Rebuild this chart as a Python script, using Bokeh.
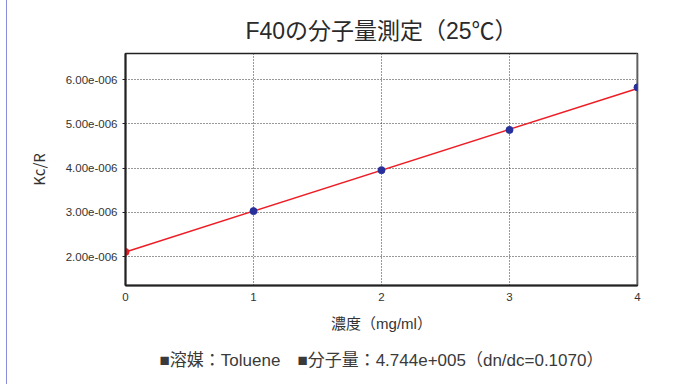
from bokeh.plotting import figure
from bokeh.models import Title, FixedTicker, Span, Range1d, Div
from bokeh.layouts import row
from bokeh.embed import file_html
from bokeh.resources import INLINE

# Zimm-type plot data: concentration (mg/ml) vs Kc/R
conc = [1, 2, 3, 4]
kc_r = [3.03e-6, 3.955e-6, 4.864e-6, 5.825e-6]

# Molecular weight from the fit; the intercept is 1/Mw
mol_weight = 4.744e5
intercept_x = [0]
intercept_y = [1 / mol_weight]

# Regression line end points
fit_x = [0, 4]
fit_y = [1 / mol_weight, 5.80e-6]

x_ticks = [0, 1, 2, 3, 4]
y_ticks = [2e-6, 3e-6, 4e-6, 5e-6, 6e-6]
y_tick_labels = ["2.00e-006", "3.00e-006", "4.00e-006", "5.00e-006", "6.00e-006"]

JP = "Noto Sans CJK JP"
MIXED = "Liberation Sans, Noto Sans CJK JP"   # Latin first, CJK falls back
NUM = "Liberation Sans"
TXT = "#333333"

p = figure(
    width=676, height=384,
    output_backend="svg", toolbar_location=None,
    x_range=Range1d(0, 4), y_range=Range1d(1.35e-6, 6.59e-6),
    min_border_left=118, min_border_right=46,
    min_border_top=53, min_border_bottom=99,
)

p.title.text = "F40の分子量測定（25℃）"
p.title.align = "center"
p.title.text_font = MIXED
p.title.text_font_size = "23px"
p.title.text_font_style = "normal"
p.title.text_color = "#2a2a2a"
p.title.standoff = 19

p.outline_line_color = "#222222"
p.outline_line_width = 1.5

# grid
p.xgrid.ticker = FixedTicker(ticks=x_ticks)
p.ygrid.ticker = FixedTicker(ticks=y_ticks)
for g in (p.xgrid, p.ygrid):
    g.grid_line_color = "#333333"
    g.grid_line_dash = "1 2"
    g.grid_line_width = 1

# axes
p.xaxis.ticker = FixedTicker(ticks=x_ticks)
p.yaxis.ticker = FixedTicker(ticks=y_ticks)
p.yaxis.major_label_overrides = dict(zip(y_ticks, y_tick_labels))
p.xaxis.axis_label = "濃度（mg/ml）"
p.yaxis.axis_label = "Kc/R"
for ax in (p.xaxis, p.yaxis):
    ax.axis_line_color = "#222222"
    ax.axis_line_width = 2
    ax.major_tick_in = 0
    ax.minor_tick_line_color = None
    ax.major_label_text_font = NUM
    ax.major_label_text_font_size = "11.5px"
    ax.major_label_text_color = TXT
    ax.axis_label_text_font = JP
    ax.axis_label_text_font_size = "15px"
    ax.axis_label_text_font_style = "normal"
    ax.axis_label_text_color = TXT
p.xaxis.axis_label_text_font = MIXED
p.xaxis.major_tick_out = 0
p.xaxis.major_label_standoff = 7
p.xaxis.axis_label_standoff = 11
p.yaxis.major_tick_out = 3
p.yaxis.major_tick_line_color = "#222222"
p.yaxis.major_label_standoff = 5
p.yaxis.axis_label_standoff = 14

# right frame edge, kept beneath the markers
p.add_layout(Span(location=4, dimension="height", line_color="#999999",
                  line_width=3, level="underlay"))

# fitted line and points
p.line(fit_x, fit_y, line_color="#ee1c24", line_width=1.5)
p.scatter(conc, kc_r, size=7, fill_color="#28309a", line_color="#28309a")
p.scatter(intercept_x, intercept_y, size=7, fill_color="#ee1c24", line_color="#ee1c24")

footer = Title(
    text="■溶媒：Toluene　■分子量：4.744e+005（dn/dc=0.1070）",
    align="center", text_font=MIXED, text_font_size="17px",
    text_font_style="normal", text_color="#3a3a3a", standoff=29,
)
p.add_layout(footer, "below")

edge = Div(width=7, height=384, margin=0,
           styles={"border-right": "1px solid #8c8cdc", "box-sizing": "border-box"})

layout = row(edge, p, spacing=0)

open("out.html", "w").write(file_html(layout, INLINE))
